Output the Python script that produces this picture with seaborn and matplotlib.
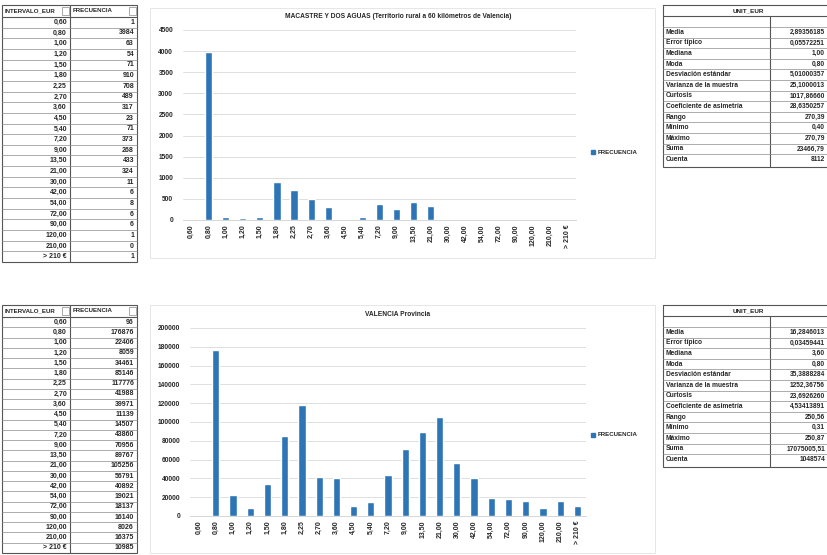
import matplotlib
matplotlib.use('Agg')
import matplotlib.pyplot as plt
from matplotlib.patches import Rectangle
import seaborn as sns

# DATA
intervalos = ['0,60', '0,80', '1,00', '1,20', '1,50', '1,80', '2,25', '2,70', '3,60',
              '4,50', '5,40', '7,20', '9,00', '13,50', '21,00', '30,00', '42,00',
              '54,00', '72,00', '90,00', '120,00', '210,00', '> 210 €']

# Macastre y Dos Aguas
frec_rural = [1, 3984, 63, 54, 71, 910, 708, 489, 317, 23, 71, 373, 268, 433, 324,
              11, 6, 8, 6, 6, 1, 0, 1]

# Valencia provincia
frec_prov = [96, 176876, 22406, 8059, 34461, 85146, 117776, 41988, 39971, 11139,
             14507, 43860, 70956, 89767, 105256, 56791, 40892, 19021, 18137, 16140,
             8026, 16375, 10985]

stat_names = ['Media', 'Error típico', 'Mediana', 'Moda', 'Desviación estándar',
              'Varianza de la muestra', 'Curtosis', 'Coeficiente de asimetría',
              'Rango', 'Mínimo', 'Máximo', 'Suma', 'Cuenta']
stats_rural = ['2,89356185', '0,05572251', '1,00', '0,80', '5,01000357', '25,1000013',
               '1017,86660', '28,6350257', '270,39', '0,40', '270,79', '23466,79', '8112']
stats_prov = ['16,2846013', '0,03459441', '3,60', '0,80', '35,3888284', '1252,36756',
              '23,6926260', '4,53413891', '250,56', '0,31', '250,87', '17075005,51',
              '1048574']

BLUE = '#2E75B6'
W, H = 828, 555

sns.set_theme(style='white')
plt.rcParams['font.family'] = ['Liberation Sans', 'DejaVu Sans']

fig = plt.figure(figsize=(W / 100, H / 100), dpi=100)


def px_axes(x0, y0, x1, y1):
    return fig.add_axes([x0 / W, 1 - y1 / H, (x1 - x0) / W, (y1 - y0) / H])


# background layer in pixel coordinates for the sheet cells
bg = px_axes(0, 0, W, H)
bg.set_xlim(0, W)
bg.set_ylim(H, 0)
bg.axis('off')


def freq_table(y0, y1, values):
    x0, xm, x1 = 2, 70, 137
    head = 12
    row_h = (y1 - y0 - head) / len(intervalos)
    bg.add_patch(Rectangle((x0, y0), x1 - x0, y1 - y0, fill=False, ec='#555555', lw=0.8))
    bg.plot([xm, xm], [y0, y1], color='#555555', lw=0.8)
    bg.plot([x0, x1], [y0 + head, y0 + head], color='#555555', lw=0.8)
    bg.text(x0 + 3, y0 + head / 2, 'INTERVALO_EUR', fontsize=4.4, fontweight='bold',
            va='center', ha='left')
    bg.text(xm + 3, y0 + head / 2, 'FRECUENCIA', fontsize=4.4, fontweight='bold',
            va='center', ha='left')
    for xb in (xm - 8, x1 - 8):
        bg.add_patch(Rectangle((xb, y0 + 2), 7, 8, fill=True, fc='white', ec='#888888', lw=0.5))
    for i, (lab, val) in enumerate(zip(intervalos, values)):
        ytop = y0 + head + i * row_h
        if i > 0:
            bg.plot([x0, x1], [ytop, ytop], color='#8c8c8c', lw=0.5)
        yc = ytop + row_h / 2
        bg.text(xm - 3, yc, lab, fontsize=5, fontweight='bold', ha='right', va='center')
        bg.text(x1 - 3, yc, str(val), fontsize=5, fontweight='bold', ha='right', va='center')


def stats_table(y0, values):
    x0, xm, x1 = 663, 770, 840
    head = 11
    row_h = 10.6
    y1 = y0 + head + 11 + row_h * len(stat_names) + 2
    bg.add_patch(Rectangle((x0, y0), x1 - x0, y1 - y0, fill=False, ec='#555555', lw=0.8))
    bg.plot([x0, x1], [y0 + head, y0 + head], color='#555555', lw=0.8)
    bg.plot([x0, x1], [y0 + head + 11, y0 + head + 11], color='#8c8c8c', lw=0.5)
    bg.plot([xm, xm], [y0 + head, y1], color='#555555', lw=0.8)
    bg.text(748, y0 + head / 2, 'UNIT_EUR', fontsize=4.6, fontweight='bold',
            ha='center', va='center')
    for i, (name, val) in enumerate(zip(stat_names, values)):
        ytop = y0 + head + 11 + i * row_h
        if i > 0:
            bg.plot([x0, x1], [ytop, ytop], color='#8c8c8c', lw=0.5)
        yc = ytop + row_h / 2
        bg.text(x0 + 3, yc, name, fontsize=4.8, fontweight='bold', ha='left', va='center')
        bg.text(825, yc, val, fontsize=4.8, fontweight='bold', ha='right', va='center')


def bar_chart(box, frame, values, title, yticks, title_y, legend_y):
    bg.add_patch(Rectangle((frame[0], frame[1]), frame[2] - frame[0], frame[3] - frame[1],
                           fill=False, ec='#e2e2e2', lw=0.6))
    ax = px_axes(*box)
    sns.barplot(x=intervalos, y=values, color=BLUE, saturation=1, width=0.42, ax=ax)
    ax.set_xlim(-0.5, len(intervalos) - 0.5)
    ax.set_ylim(0, yticks[-1])
    ax.set_yticks(yticks)
    ax.set_yticklabels([str(v) for v in yticks])
    ax.yaxis.grid(True, color='#d9d9d9', lw=0.6)
    ax.set_axisbelow(True)
    for s in ['top', 'right', 'left']:
        ax.spines[s].set_visible(False)
    ax.spines['bottom'].set_color('#d0d0d0')
    ax.spines['bottom'].set_linewidth(0.6)
    ax.tick_params(axis='x', rotation=90, labelsize=5, length=0, pad=3)
    ax.tick_params(axis='y', labelsize=4.8, length=0, pad=7)
    plt.setp(ax.get_xticklabels() + ax.get_yticklabels(), fontweight='bold')
    ax.set_xlabel('')
    ax.set_ylabel('')
    ax.patch.set_alpha(0)
    bg.text(398, title_y, title, fontsize=4.8, fontweight='bold', ha='center', va='center')
    bg.add_patch(Rectangle((591, legend_y - 2), 4, 4, color=BLUE))
    bg.text(598, legend_y, 'FRECUENCIA', fontsize=4.4, fontweight='bold', ha='left', va='center')
    return ax


freq_table(5, 262, frec_rural)
freq_table(305, 553, frec_prov)

stats_table(5, stats_rural)
stats_table(305, stats_prov)

bar_chart((183, 30, 576, 220), (150, 8, 655, 258), frec_rural,
          'MACASTRE Y DOS AGUAS (Territorio rural a 60 kilómetros de Valencia)',
          list(range(0, 4501, 500)), 17, 152)
bar_chart((190, 328, 586, 516), (150, 305, 655, 553), frec_prov,
          'VALENCIA Provincia',
          list(range(0, 200001, 20000)), 315, 435)

fig.savefig('out.png', dpi=100)
